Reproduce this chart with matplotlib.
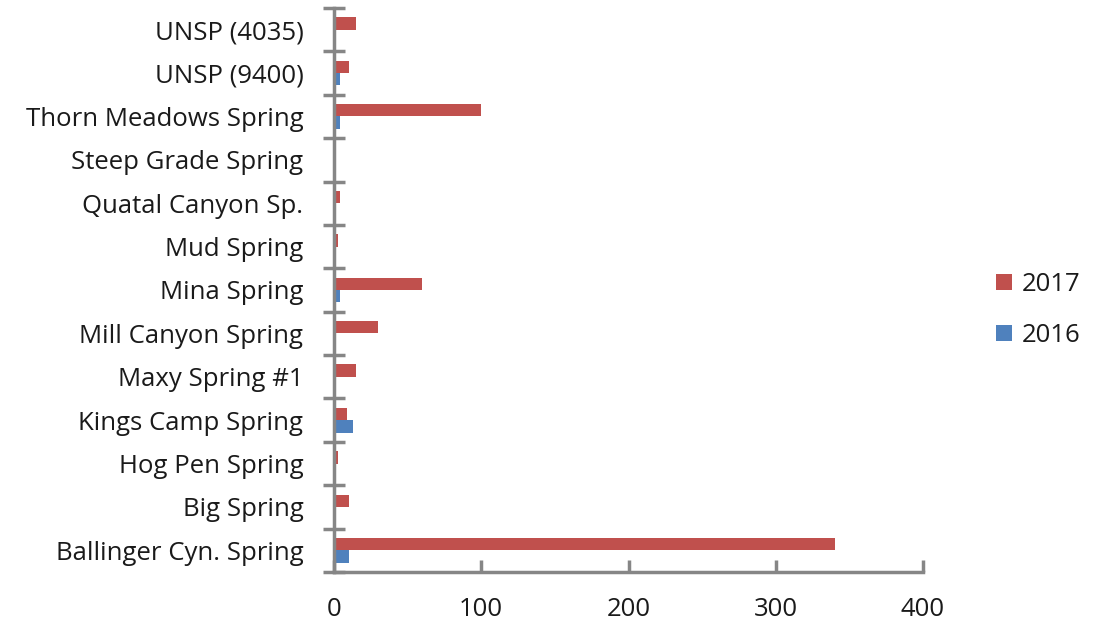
import matplotlib
matplotlib.use("Agg")
import matplotlib.pyplot as plt
import numpy as np

plt.rcParams['font.family'] = ['Open Sans', 'DejaVu Sans']

springs = [
    "Ballinger Cyn. Spring", "Big Spring", "Hog Pen Spring", "Kings Camp Spring",
    "Maxy Spring #1", "Mill Canyon Spring", "Mina Spring", "Mud Spring",
    "Quatal Canyon Sp.", "Steep Grade Spring", "Thorn Meadows Spring",
    "UNSP (9400)", "UNSP (4035)",
]
counts_2017 = [340, 10, 3, 9, 15, 30, 60, 3, 4, 0.5, 100, 10, 15]
counts_2016 = [10, 0, 0, 13, 0, 0, 4, 0, 1, 0, 4, 4, 0]
x_ticks = [0, 100, 200, 300, 400]

RED = "#C0504D"
BLUE = "#4F81BD"
AXIS = "#868686"
TEXT = "#1a1a1a"
FS = 18.5

fig = plt.figure(figsize=(10.96, 6.27), dpi=100)
ax = fig.add_axes([334 / 1096, 1 - 572 / 627, (923 - 334) / 1096, (572 - 8) / 627])

y = np.arange(len(springs))
h = 1 / 3.5
ax.barh(y + h / 2, counts_2017, height=h, color=RED, label="2017")
ax.barh(y - h / 2, counts_2016, height=h, color=BLUE, label="2016")

ax.set_xlim(0, 400)
ax.set_ylim(-0.5, len(springs) - 0.5)
ax.set_xticks(x_ticks)
ax.set_xticklabels([str(v) for v in x_ticks], fontsize=FS, color=TEXT)

ax.set_yticks(y)
ax.set_yticklabels(springs, fontsize=FS, color=TEXT)
ax.set_yticks(np.arange(-0.5, len(springs)), minor=True)
ax.tick_params(axis="y", which="major", length=0, pad=22)
ax.tick_params(axis="y", which="minor", direction="inout", length=16, width=2.5, color=AXIS)
ax.tick_params(axis="x", which="major", direction="in", length=9, width=2.5, color=AXIS, pad=18)

for side in ("top", "right"):
    ax.spines[side].set_visible(False)
for side in ("left", "bottom"):
    ax.spines[side].set_color(AXIS)
    ax.spines[side].set_linewidth(2.5)

handles, labels = ax.get_legend_handles_labels()
fig.legend(handles, labels, loc="center left", bbox_to_anchor=(973 / 1096, 1 - 310 / 627),
           frameon=False, fontsize=FS, handlelength=0.6, handleheight=0.6,
           handletextpad=0.4, labelspacing=1.0, labelcolor=TEXT)

fig.savefig("out.png", dpi=100)
